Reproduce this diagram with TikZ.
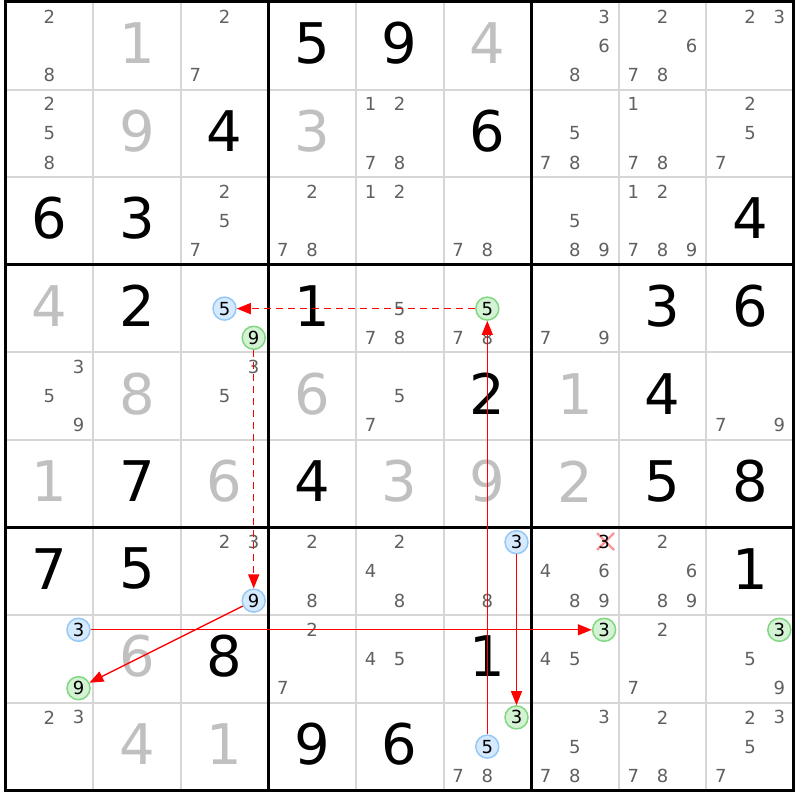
\documentclass[tikz,border=0pt]{standalone}
\usepackage{fontspec}
\setmainfont{DejaVu Sans}
\usetikzlibrary{arrows.meta}
\definecolor{candgray}{RGB}{96,96,96}
\definecolor{lightdig}{RGB}{192,192,192}
\definecolor{thinline}{RGB}{214,214,214}
\definecolor{bluefill}{RGB}{214,234,255}
\definecolor{bluebd}{RGB}{150,200,245}
\definecolor{greenfill}{RGB}{212,242,212}
\definecolor{greenbd}{RGB}{130,215,130}
\definecolor{crosspink}{RGB}{255,150,150}
\definecolor{linkred}{RGB}{255,0,0}
\newcommand\candat[4]{%
  \pgfmathsetmacro\px{5.5+87.6*#3+29.2*(mod(#4-1,3)+0.5)}%
  \pgfmathsetmacro\py{2+87.6*#2+29.2*(floor((#4-1)/3)+0.5)}%
  \node[#1] (n#2#3#4) at (\px,\py) {#4};}
\begin{document}
\begin{tikzpicture}[x=1pt,y=-1pt,
  cand/.style={inner sep=0pt, text=candgray, font=\fontsize{18}{18}\selectfont},
  candk/.style={cand, text=black},
  bigB/.style={inner sep=0pt, text=black, font=\fontsize{56}{56}\selectfont},
  bigG/.style={bigB, text=lightdig},
  bluec/.style={circle, draw=bluebd, fill=bluefill, line width=1.5pt, minimum size=23pt, inner sep=0pt, text=black, font=\fontsize{18}{18}\selectfont},
  greenc/.style={bluec, draw=greenbd, fill=greenfill},
  thinl/.style={draw=thinline, line width=2pt},
  thickl/.style={draw=black, line width=3pt},
  link/.style={draw=linkred, line width=1.3pt, -{Triangle[length=14pt,width=11pt,fill=linkred]}},
  linkd/.style={link, dash pattern=on 7pt off 5pt}
]
\useasboundingbox (0,0) rectangle (800,800);
\fill[white] (0,0) rectangle (800,800);
% thin grid
\foreach \i in {1,2,4,5,7,8}{
  \draw[thinl] ({5.5+87.6*\i},2) -- ({5.5+87.6*\i},790.4);
  \draw[thinl] (5.5,{2+87.6*\i}) -- (793.9,{2+87.6*\i});
}
% thick grid
\foreach \i in {3,6}{
  \draw[thickl] ({5.5+87.6*\i},2) -- ({5.5+87.6*\i},790.4);
  \draw[thickl] (5.5,{2+87.6*\i}) -- (793.9,{2+87.6*\i});
}
\draw[thickl] (5.5,2) rectangle (793.9,790.4);
% big digits
\foreach \r/\c/\d/\s in {
  0/1/1/bigG, 0/3/5/bigB, 0/4/9/bigB, 0/5/4/bigG,
  1/1/9/bigG, 1/2/4/bigB, 1/3/3/bigG, 1/5/6/bigB,
  2/0/6/bigB, 2/1/3/bigB, 2/8/4/bigB,
  3/0/4/bigG, 3/1/2/bigB, 3/3/1/bigB, 3/7/3/bigB, 3/8/6/bigB,
  4/1/8/bigG, 4/3/6/bigG, 4/5/2/bigB, 4/6/1/bigG, 4/7/4/bigB,
  5/0/1/bigG, 5/1/7/bigB, 5/2/6/bigG, 5/3/4/bigB, 5/4/3/bigG, 5/5/9/bigG, 5/6/2/bigG, 5/7/5/bigB, 5/8/8/bigB,
  6/0/7/bigB, 6/1/5/bigB, 6/8/1/bigB,
  7/1/6/bigG, 7/2/8/bigB, 7/5/1/bigB,
  8/1/4/bigG, 8/2/1/bigG, 8/3/9/bigB, 8/4/6/bigB}{
  \node[\s] (b\r\c) at ({5.5+87.6*\c+43.8},{2+87.6*\r+41.3}) {\d};
}
% plain candidates
\foreach \r/\c/\L in {
  0/0/{2,8}, 0/2/{2,7}, 0/6/{3,6,8}, 0/7/{2,6,7,8}, 0/8/{2,3},
  1/0/{2,5,8}, 1/4/{1,2,7,8}, 1/6/{5,7,8}, 1/7/{1,7,8}, 1/8/{2,5,7},
  2/2/{2,5,7}, 2/3/{2,7,8}, 2/4/{1,2}, 2/5/{7,8}, 2/6/{5,8,9}, 2/7/{1,2,7,8,9},
  3/4/{5,7,8}, 3/5/{7,8}, 3/6/{7,9},
  4/0/{3,5,9}, 4/2/{3,5}, 4/4/{5,7}, 4/8/{7,9},
  6/2/{2,3}, 6/3/{2,8}, 6/4/{2,4,8}, 6/5/{8}, 6/6/{4,6,8,9}, 6/7/{2,6,8,9},
  7/3/{2,7}, 7/4/{4,5}, 7/6/{4,5}, 7/7/{2,7}, 7/8/{5,9},
  8/0/{2,3}, 8/5/{7,8}, 8/6/{3,5,7,8}, 8/7/{2,7,8}, 8/8/{2,3,5,7}}{
  \foreach \d in \L {\candat{cand}{\r}{\c}{\d}}
}
% eliminated candidate
\draw[crosspink, line width=2.4pt] (597,533) -- (614,550) (597,550) -- (614,533);
\candat{candk}{6}{6}{3}
% highlighted candidates
\candat{bluec}{3}{2}{5}
\candat{bluec}{6}{2}{9}
\candat{bluec}{6}{5}{3}
\candat{bluec}{7}{0}{3}
\candat{bluec}{8}{5}{5}
\candat{greenc}{3}{2}{9}
\candat{greenc}{3}{5}{5}
\candat{greenc}{7}{0}{9}
\candat{greenc}{7}{6}{3}
\candat{greenc}{7}{8}{3}
\candat{greenc}{8}{5}{3}
% links
\draw[linkd] (n355) -- (n325);
\draw[linkd] (n329) -- (n629);
\draw[link] (n629) -- (n709);
\draw[link] (n703) -- (n763);
\draw[link] (n653) -- (n853);
\draw[link] (n855) -- (n355);
\end{tikzpicture}
\end{document}
